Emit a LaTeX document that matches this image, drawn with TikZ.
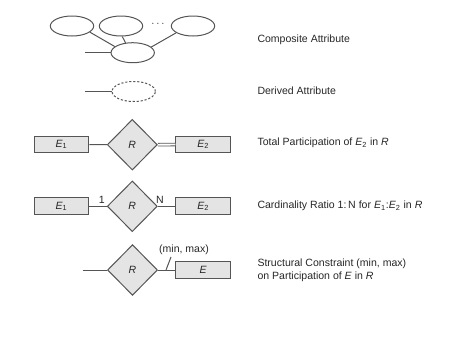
\documentclass[tikz,border=0pt]{standalone}
\usepackage{fontspec}
\setmainfont{Liberation Sans}
\usetikzlibrary{shapes.geometric}
\definecolor{ln}{HTML}{555555}
\definecolor{fl}{HTML}{E4E4E4}
\begin{document}
\begin{tikzpicture}[x=0.75pt,y=-0.75pt, color=ln, line width=0.75pt,
  every node/.style={font=\fontsize{7.9}{9.6}\selectfont, text=black!85},
  attr/.style={ellipse, draw=ln, minimum width=32.5pt, minimum height=15pt, inner sep=0pt},
  ent/.style={rectangle, draw=ln, fill=fl, minimum width=41pt, minimum height=12.5pt, inner sep=0pt},
  rel/.style={diamond, draw=ln, fill=fl, minimum width=37.5pt, minimum height=38pt, inner sep=0pt},
  lab/.style={anchor=west, inner sep=0pt, align=left}]
\useasboundingbox (0,0) rectangle (474,337);

% Composite attribute
\node[attr] (e1) at (72,26) {};
\node[attr] (e2) at (121,26) {};
\node[attr] (e3) at (193,26) {};
\node[inner sep=0pt] (dots) at (158,24) {$\cdots$};
\node[attr] (eb) at (132.7,52.7) {};
\coordinate (c0) at (85,52.7);
\draw (e1.-19) -- (eb.161);
\draw (e2.-83) -- (eb.126);
\draw (e3.-158) -- (eb.17);
\draw (c0) -- (eb);
\node[lab] (t1) at (257,40) {Composite Attribute};

% Derived attribute
\node[attr, dashed, dash pattern=on 1.6pt off 1.4pt] (da) at (133.7,91.5) {};
\coordinate (d0) at (85,91.5);
\draw (d0) -- (da);
\node[lab] (t2) at (257,91) {Derived Attribute};

% Total participation
\node[ent] (a1) at (61.5,144.5) {\textit{E}\textsubscript{1}};
\node[rel] (ra) at (132.3,144.7) {\textit{R}};
\node[ent] (a2) at (203.3,144.5) {\textit{E}\textsubscript{2}};
\draw (a1) -- (ra);
\draw[double=white, double distance=1.4pt, line width=0.6pt] (ra.east) -- (a2.west);
\node[lab] (t3) at (257,143) {Total Participation of \textit{E}\textsubscript{2} in \textit{R}};

% Cardinality ratio
\node[ent] (b1) at (61.5,206.3) {\textit{E}\textsubscript{1}};
\node[rel] (rb) at (132.3,206.3) {\textit{R}};
\node[ent] (b2) at (203.3,206.3) {\textit{E}\textsubscript{2}};
\draw (b1) -- (rb) node[pos=0.72, above, inner sep=1.5pt] (one) {1};
\draw (rb) -- (b2) node[pos=0.12, above, inner sep=1.5pt] (nn) {N};
\node[lab] (t4) at (257,206) {Cardinality Ratio 1:\,N for \textit{E}\textsubscript{1}:\textit{E}\textsubscript{2} in \textit{R}};

% Structural constraint
\coordinate (s0) at (82.7,270);
\node[rel] (rc) at (132.5,270) {\textit{R}};
\node[ent] (ce) at (203.2,270) {\textit{E}};
\draw (s0) -- (rc);
\draw (rc) -- (ce);
\coordinate (k1) at (166,270);
\coordinate (k2) at (171,257);
\draw (k1) -- (k2);
\node[inner sep=0pt] (mm) at (184,250) {(min, max)};
\node[lab] (t5) at (257,270.3) {Structural Constraint (min, max)\\on Participation of \textit{E} in \textit{R}};
\end{tikzpicture}
\end{document}
